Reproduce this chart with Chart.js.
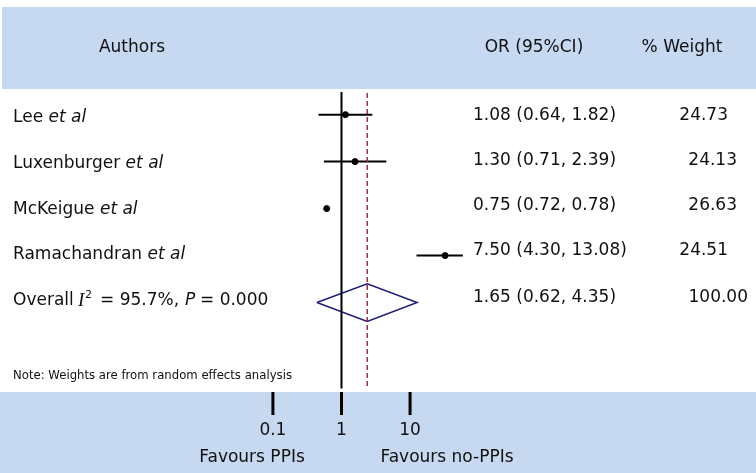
<!DOCTYPE html>
<html>
<head>
<meta charset="utf-8">
<script src="https://cdn.jsdelivr.net/npm/chart.js@4.4.0/dist/chart.umd.min.js"></script>
<style>
  html, body { margin: 0; padding: 0; background: #fff; }
  #wrap { width: 756px; height: 473px; }
</style>
</head>
<body>
<div id="wrap"><canvas id="forest"></canvas></div>
<script>
// study data
var authors = ["Lee", "Luxenburger", "McKeigue", "Ramachandran"];
var or_est = [1.08, 1.30, 0.75, 7.50];
var or_low = [0.64, 0.71, 0.72, 4.30];
var or_high = [1.82, 2.39, 0.78, 13.08];
var weights = ["24.73", "24.13", "26.63", "24.51"];

// pooled estimate
var overall_est = 1.65;
var overall_low = 0.62;
var overall_high = 4.35;
var overall_weight = "100.00";
var overall_i2 = "95.7%";
var overall_p = "0.000";

// bottom axis
var axis_ticks = [0.1, 1, 10];
var axis_labels = ["0.1", "1", "10"];

var ci_clip = 10.6; // CI lines stop at the plot edge
var font_name = "'DejaVu Sans', Verdana, sans-serif";
var serif_name = "'Liberation Serif', 'DejaVu Serif', serif";

function fmt(v) { return v.toFixed(2); }

var datasets = [];

// null line + overall dashed line
datasets.push({
  type: "line",
  data: [{x: 1, y: -0.48}, {x: 1, y: 5.83}],
  borderColor: "#000",
  borderWidth: 2,
  pointRadius: 0,
});
datasets.push({
  type: "line",
  data: [{x: overall_est, y: -0.46}, {x: overall_est, y: 5.83}],
  borderColor: "#9a2232",
  borderWidth: 1.4,
  borderDash: [5, 3],
  pointRadius: 0,
});

// CI lines
for (var i = 0; i < authors.length; i++) {
  datasets.push({
    type: "line",
    data: [{x: or_low[i], y: i}, {x: Math.min(or_high[i], ci_clip), y: i}],
    borderColor: "#000",
    borderWidth: 2,
    pointRadius: 0,
  });
}

// point estimates
datasets.push({
  type: "scatter",
  data: or_est.map(function (v, i) { return {x: v, y: i}; }),
  backgroundColor: "#000",
  borderColor: "#000",
  pointRadius: 3,
});

// diamond
var r = authors.length;
datasets.push({
  type: "line",
  data: [
    {x: overall_low, y: r},
    {x: overall_est, y: r - 0.4},
    {x: overall_high, y: r},
    {x: overall_est, y: r + 0.4},
    {x: overall_low, y: r},
  ],
  borderColor: "#1c1c78",
  borderWidth: 1.5,
  pointRadius: 0,
  fill: false,
  tension: 0,
});

var forest_plugin = {
  id: "forest_plugin",
  beforeDraw: function (chart) {
    var c = chart.ctx;
    c.save();
    c.fillStyle = "#fff";
    c.fillRect(0, 0, chart.width, chart.height);
    c.fillStyle = "#c6d9f0";
    c.fillRect(2, 7, chart.width - 2, 82);
    c.fillRect(0, 392, chart.width, chart.height - 392);
    c.restore();
  },
  afterDraw: function (chart) {
    var c = chart.ctx;
    var x2 = chart.scales.x2;
    c.save();
    c.fillStyle = "#111";
    c.textBaseline = "middle";

    // header
    c.font = "17px " + font_name;
    c.textAlign = "center";
    c.fillText("Authors", 132, 48);
    c.fillText("OR (95%CI)", 534, 48);
    c.fillText("% Weight", 682, 48);

    // rows
    var text_top = 118, text_step = 45.6;
    for (var i = 0; i < authors.length; i++) {
      var y = text_top + text_step * i;
      draw_parts(c, [[authors[i] + " ", false], ["et al", true]], 13, y);
      c.textAlign = "left";
      c.font = "17px " + font_name;
      c.fillText(fmt(or_est[i]) + " (" + fmt(or_low[i]) + ", " + fmt(or_high[i]) + ")", 473, y - 2 - i * 0.6);
      c.textAlign = "right";
      c.fillText(weights[i], [728, 737, 737, 728][i], y - 2 - i * 0.6);
    }

    // overall row, pieces placed one by one
    var yo = text_top + text_step * authors.length;
    c.textAlign = "left";
    c.font = "17px " + font_name;
    c.fillText("Overall", 13, yo);
    c.font = "italic 19px " + serif_name;
    c.fillText("I", 78, yo + 1);
    c.font = "11px " + font_name;
    c.fillText("2", 85, yo - 5);
    c.font = "17px " + font_name;
    c.fillText("= " + overall_i2 + ",", 100, yo);
    c.font = "italic 17px " + font_name;
    c.fillText("P", 185, yo);
    c.font = "17px " + font_name;
    c.fillText("= " + overall_p, 200, yo);
    c.fillText(fmt(overall_est) + " (" + fmt(overall_low) + ", " + fmt(overall_high) + ")", 473, yo - 3);
    c.textAlign = "right";
    c.fillText(overall_weight, 748, yo - 3);

    // note
    c.textAlign = "left";
    c.font = "11.7px " + font_name;
    c.fillText("Note: Weights are from random effects analysis", 13, 376);

    // bottom axis
    c.font = "17px " + font_name;
    c.textAlign = "center";
    c.strokeStyle = "#000";
    c.lineWidth = 3;
    for (var k = 0; k < axis_ticks.length; k++) {
      var px = x2.getPixelForValue(axis_ticks[k]);
      c.beginPath();
      c.moveTo(px, 392);
      c.lineTo(px, 415);
      c.stroke();
      c.fillText(axis_labels[k], px, 431);
    }
    c.fillText("Favours PPIs", 252, 458);
    c.fillText("Favours no-PPIs", 447, 458);
    c.restore();
  }
};

function draw_parts(c, parts, x, y) {
  c.textAlign = "left";
  for (var j = 0; j < parts.length; j++) {
    var p = parts[j];
    c.font = (p[1] ? "italic " : "") + "17px " + font_name;
    c.fillText(p[0], x, y);
    x += c.measureText(p[0]).width;
  }
}

var ctx = document.getElementById("forest").getContext("2d");
var chart = new Chart(ctx, {
  type: "scatter",
  data: { datasets: datasets },
  options: {
    responsive: true,
    maintainAspectRatio: false,
    animation: false,
    layout: { padding: 0 },
    scales: {
      // data scale: 1 at x=341, 120px per decade
      x: { type: "logarithmic", min: Math.pow(10, -341 / 120), max: Math.pow(10, 415 / 120), display: false },
      // axis shown at the bottom: 1 at x=341, ~69.5px per decade
      x2: { type: "logarithmic", min: Math.pow(10, -341 / 69.5), max: Math.pow(10, 415 / 69.5), display: false },
      y: { type: "linear", min: -112 / 48, max: 361 / 48, reverse: true, display: false },
    },
    plugins: {
      legend: { display: false },
      tooltip: { enabled: false },
    },
  },
  plugins: [forest_plugin],
});
</script>
</body>
</html>
